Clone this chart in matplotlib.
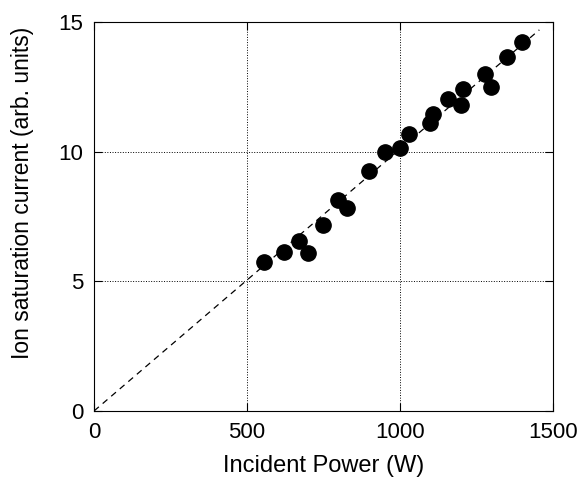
import matplotlib
matplotlib.use("Agg")
import matplotlib.pyplot as plt
import numpy as np

plt.rcParams['font.family'] = ['Liberation Sans', 'DejaVu Sans']

# measured points
power = [556, 621, 670, 700, 749, 798, 827, 899, 950, 1000, 1028, 1098, 1107,
         1157, 1198, 1207, 1278, 1297, 1349, 1399]
current = [5.74, 6.12, 6.57, 6.08, 7.18, 8.15, 7.83, 9.26, 10.0, 10.15, 10.68,
           11.11, 11.46, 12.03, 11.81, 12.43, 13.01, 12.50, 13.64, 14.24]

# linear fit through origin
fit_x = [0, 1455]
fit_y = [0, 14.7]

fig = plt.figure(figsize=(5.81, 4.8), dpi=100)
ax = fig.add_axes([0.162, 0.144, 0.79, 0.81])

ax.plot(fit_x, fit_y, color='black', linestyle=(0, (5, 4)), linewidth=0.9)
ax.plot(power, current, 'o', color='black', markersize=11)

ax.set_xlim(0, 1500)
ax.set_ylim(0, 15)
ax.set_xticks([0, 500, 1000, 1500])
ax.set_yticks([0, 5, 10, 15])
ax.grid(True, linestyle=':', color='black', linewidth=0.7)
ax.tick_params(direction='in', top=True, right=True, labelsize=16, length=6, pad=8)

ax.set_xlabel('Incident Power (W)', fontsize=17, labelpad=9)
ax.set_ylabel('Ion saturation current (arb. units)', fontsize=16.5)
ax.yaxis.set_label_coords(-0.13, 0.56)

fig.savefig('out.png', dpi=100)
